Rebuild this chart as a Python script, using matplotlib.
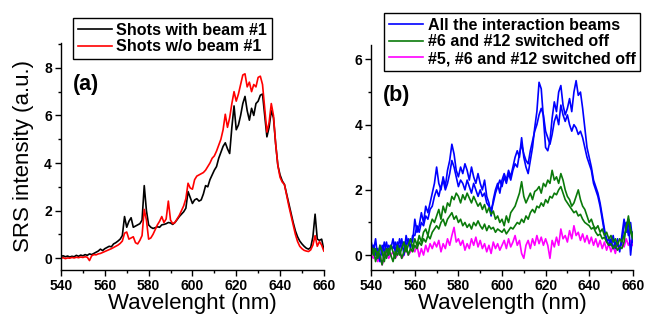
import numpy as np
import matplotlib
matplotlib.use("Agg")
import matplotlib.pyplot as plt
from matplotlib.ticker import MultipleLocator

plt.rcParams['font.family'] = ['Liberation Sans', 'DejaVu Sans']

# wavelength grid (nm), 1 nm steps
wl = np.arange(540, 661)

# panel (a)
with_beam1 = [
    0.08, 0.10, 0.06, 0.09, 0.05, 0.08, 0.06, 0.12, 0.08, 0.13,
    0.10, 0.15, 0.12, 0.18, 0.15, 0.20, 0.25, 0.30, 0.38, 0.32,
    0.40, 0.45, 0.50, 0.48, 0.60, 0.65, 0.72, 0.80, 0.95, 1.75,
    1.30, 1.55, 1.70, 1.30, 1.35, 1.40, 1.45, 1.60, 3.05, 2.00,
    1.40, 1.30, 1.25, 1.28, 1.32, 1.30, 1.40, 1.42, 1.45, 1.50,
    1.48, 1.42, 1.50, 1.62, 1.75, 1.85, 1.95, 2.10, 2.80, 2.55,
    2.30, 2.45, 2.50, 2.40, 2.45, 2.70, 3.05, 3.00, 3.30, 3.50,
    3.70, 3.85, 4.20, 4.45, 4.70, 4.85, 4.60, 4.40, 5.50, 6.40,
    5.40, 5.60, 6.00, 6.50, 6.80, 6.20, 5.80, 6.30, 6.00, 6.50,
    6.60, 6.85, 6.90, 6.00, 5.10, 5.50, 6.20, 5.90, 4.80, 3.90,
    3.50, 3.25, 3.10, 2.70, 2.30, 1.90, 1.50, 1.15, 0.90, 0.72,
    0.60, 0.50, 0.42, 0.38, 0.45, 0.90, 1.85, 0.80, 0.75, 0.80,
    0.35]
without_beam1 = [
    0.00, 0.02, -0.02, 0.01, 0.00, 0.03, 0.01, 0.04, 0.02, 0.05,
    0.03, 0.06, 0.04, -0.10, 0.10, 0.15, 0.14, 0.18, 0.20, 0.24,
    0.28, 0.32, 0.36, 0.40, 0.45, 0.50, 0.55, 0.62, 0.72, 1.05,
    1.10, 0.80, 0.85, 0.90, 0.65, 0.60, 0.75, 0.95, 2.05, 1.60,
    0.80, 0.85, 1.00, 1.20, 1.40, 1.55, 1.75, 1.50, 1.65, 2.40,
    1.60, 1.45, 1.50, 1.65, 1.80, 2.00, 2.20, 2.50, 3.15, 2.95,
    2.90, 3.30, 3.45, 3.50, 3.55, 3.60, 3.70, 3.85, 4.00, 4.20,
    4.30, 4.50, 4.75, 5.00, 5.40, 6.05, 5.50, 5.90, 6.50, 7.00,
    6.60, 6.90, 7.30, 7.70, 7.75, 7.20, 7.40, 7.00, 7.30, 7.20,
    7.60, 7.65, 7.30, 6.30, 5.30, 5.70, 6.50, 6.00, 4.80, 3.90,
    3.40, 3.20, 3.10, 2.65, 2.20, 1.80, 1.40, 1.00, 0.70, 0.50,
    0.40, 0.33, 0.30, 0.28, 0.35, 0.55, 0.95, 0.50, 0.70, 0.55,
    0.30]

# panel (b): two shots for blue and green, one for magenta
all_beams_1 = [
    0.4, 0.1, 0.5, -0.1, 0.3, 0.0, 0.4, 0.1, 0.3, 0.2,
    0.5, 0.1, 0.4, 0.2, 0.5, 0.0, 0.6, 0.3, 0.5, 0.4,
    1.1, 0.7, 0.9, 1.3, 1.0, 1.5, 1.3, 1.6, 1.9, 2.2,
    2.7, 2.2, 2.0, 2.4, 2.1, 2.6, 2.9, 3.4, 3.1, 2.6,
    2.4, 2.7, 2.5, 2.8, 2.6, 2.3, 2.7, 2.4, 2.2, 2.5,
    2.2, 2.0, 2.3, 1.8, 1.6, 1.2, 1.7, 2.0, 2.2, 1.9,
    2.3, 2.5, 2.3, 2.6, 2.4, 2.7, 3.0, 3.2, 3.0, 3.6,
    3.0, 2.7, 2.5, 2.9, 3.3, 3.9, 4.4, 5.3, 5.1, 4.2,
    3.3, 3.2, 3.5, 4.2, 4.7, 4.4, 5.0, 5.2, 4.6, 4.3,
    4.5, 4.8, 4.4, 5.0, 5.35, 4.9, 5.0, 4.5, 3.9, 3.3,
    3.0, 2.7, 2.3, 2.1, 1.9, 1.6, 1.2, 0.8, 0.4, 0.5,
    0.3, 0.6, 0.2, 0.5, 0.1, 0.6, 1.1, 0.7, 1.1, 0.0, 0.7]
all_beams_2 = [
    0.1, 0.3, 0.0, 0.2, -0.2, 0.3, 0.1, 0.4, 0.0, 0.3,
    0.2, 0.4, 0.1, 0.5, 0.2, 0.4, 0.3, 0.5, 0.2, 0.6,
    0.6, 0.9, 0.7, 1.0, 0.9, 1.2, 1.1, 1.4, 1.5, 1.8,
    2.0, 1.8, 2.1, 2.3, 2.0, 2.2, 2.5, 2.9, 2.7, 2.4,
    2.1, 2.3, 2.2, 2.0, 2.3, 2.1, 1.9, 2.2, 2.0, 1.8,
    2.0, 1.8, 1.9, 1.6, 1.5, 1.4, 1.6, 1.9, 2.1, 2.3,
    2.1, 2.4, 2.2, 2.5, 2.3, 2.6, 2.8, 2.7, 3.1, 3.4,
    3.1, 2.9, 2.8, 3.2, 3.5, 3.8, 4.0, 4.3, 4.5, 4.3,
    3.8, 3.6, 3.4, 3.7, 4.1, 4.3, 4.0, 4.6, 4.3, 4.1,
    4.3, 4.0, 3.8, 4.0, 3.9, 3.7, 3.8, 3.6, 3.3, 3.0,
    2.8, 2.6, 2.2, 2.0, 1.8, 1.5, 1.1, 0.7, 0.5, 0.3,
    0.5, 0.2, 0.4, 0.3, 0.2, 0.4, 0.9, 1.0, 0.6, 1.0, 0.4]
off_6_12_1 = [
    0.3, 0.0, 0.2, -0.1, 0.3, 0.1, -0.2, 0.2, 0.0, 0.3,
    0.1, -0.1, 0.3, 0.0, 0.2, 0.4, 0.1, 0.3, 0.5, 0.2,
    0.5, 0.3, 0.6, 0.4, 0.7, 0.8, 0.6, 0.9, 1.1, 1.0,
    1.2, 1.4, 1.1, 1.5, 1.3, 1.6, 1.5, 1.8, 1.7, 1.9,
    1.8, 1.6, 1.85, 1.7, 1.9, 1.75, 1.6, 1.8, 1.65, 1.5,
    1.6, 1.4, 1.55, 1.3, 1.45, 1.25, 1.35, 1.1, 1.2, 1.0,
    1.1, 0.9, 1.2, 1.0, 1.3, 1.4, 1.5, 1.7, 1.9, 2.25,
    1.8, 1.6, 1.75, 1.9, 1.7, 1.95, 2.0, 2.1, 1.9, 2.2,
    2.1, 2.3, 2.2, 2.6, 2.3, 2.4, 2.2, 2.5, 2.3, 2.0,
    1.8, 1.7, 1.5, 1.6, 1.8, 2.0, 1.7, 1.5, 1.4, 1.2,
    1.0, 1.1, 0.9, 0.8, 0.9, 0.7, 0.8, 0.6, 0.7, 0.5,
    0.6, 0.4, 0.5, 0.3, 0.5, 0.4, 0.6, 0.8, 1.2, 0.7, 0.5]
off_6_12_2 = [
    0.0, 0.2, -0.2, 0.1, 0.0, -0.3, 0.1, -0.1, 0.2, 0.0,
    -0.2, 0.1, 0.0, 0.2, -0.1, 0.1, 0.3, 0.0, 0.2, 0.1,
    0.3, 0.2, 0.4, 0.3, 0.5, 0.4, 0.6, 0.5, 0.7, 0.8,
    0.9, 0.8, 1.0, 1.1, 0.9, 1.1, 1.2, 1.3, 1.1, 1.2,
    1.0, 1.1, 0.9, 1.0, 0.85, 0.95, 0.8, 1.0, 0.9, 1.05,
    0.9, 0.8, 0.95, 0.75, 0.9, 0.8, 0.85, 0.7, 0.8, 0.75,
    0.7, 0.8, 0.65, 0.75, 0.85, 0.8, 0.9, 1.0, 0.95, 1.1,
    1.0, 1.2, 1.1, 1.3, 1.4, 1.3, 1.5, 1.45, 1.6, 1.5,
    1.7, 1.6, 1.8, 1.75, 1.9, 1.85, 2.0, 2.1, 1.9, 1.7,
    1.6, 1.5, 1.4, 1.3, 1.35, 1.2, 1.25, 1.1, 1.0, 0.95,
    0.9, 0.8, 0.85, 0.7, 0.6, 0.65, 0.5, 0.55, 0.4, 0.3,
    0.35, 0.2, 0.3, 0.15, 0.25, 0.2, 0.4, 0.9, 1.1, 0.8, 0.6]
off_5_6_12 = [
    0.0, -0.1, 0.1, -0.2, 0.0, -0.3, -0.1, 0.1, -0.1, 0.0,
    0.1, -0.1, 0.0, 0.1, -0.1, 0.0, 0.2, 0.0, 0.1, 0.2,
    0.1, 0.3, -0.05, 0.2, 0.0, 0.3, 0.1, 0.35, 0.2, 0.4,
    0.25, 0.45, 0.1, 0.35, 0.2, 0.5, 0.3, 0.6, 0.85, 0.4,
    0.5, 0.3, 0.45, 0.15, 0.35, 0.2, 0.5, 0.3, 0.55, 0.25,
    0.45, 0.2, 0.35, 0.1, 0.3, 0.05, 0.4, 0.2, 0.35, 0.15,
    0.3, 0.45, 0.2, 0.5, 0.25, 0.4, 0.6, 0.3, 0.45, 0.05,
    -0.1, 0.3, 0.45, 0.2, 0.5, 0.3, 0.6, 0.35, 0.55, 0.3,
    0.5, 0.3, -0.1, 0.45, 0.25, 0.55, 0.3, 0.8, 0.5, 0.6,
    0.4, 0.75, 0.5, 0.9, 0.6, 0.7, 0.45, 0.65, 0.4, 0.6,
    0.35, 0.55, 0.3, 0.5, 0.25, 0.45, 0.2, 0.4, 0.15, 0.35,
    0.1, 0.3, 0.05, 0.35, 0.2, 0.4, 0.25, 0.5, 0.3, 0.45, 0.3]

GREEN = '#0a7a0a'


def style_axes(ax, ymajor):
    for s in ('top', 'right'):
        ax.spines[s].set_visible(False)
    for s in ('left', 'bottom'):
        ax.spines[s].set_linewidth(1.0)
    ax.xaxis.set_major_locator(MultipleLocator(20))
    ax.xaxis.set_minor_locator(MultipleLocator(10))
    ax.yaxis.set_major_locator(MultipleLocator(ymajor))
    ax.yaxis.set_minor_locator(MultipleLocator(ymajor / 2))
    ax.tick_params(which='major', direction='out', length=4, width=1.0,
                   pad=2.5, labelsize=10)
    ax.tick_params(which='minor', direction='out', length=2.5, width=1.0)
    for lab in ax.get_xticklabels() + ax.get_yticklabels():
        lab.set_fontweight('bold')
    ax.set_xlim(540, 660)


def add_legend(handles, labels, x, y):
    leg = fig.legend(handles, labels, loc='upper left',
                     bbox_to_anchor=(x / 649, 1 - y / 320),
                     prop={'weight': 'bold', 'size': 11.6}, frameon=True,
                     fancybox=False, edgecolor='black', framealpha=1,
                     handlelength=2.1, handletextpad=0.3, labelspacing=0.1,
                     borderpad=0.3, borderaxespad=0)
    leg.get_frame().set_linewidth(1.0)
    return leg


fig = plt.figure(figsize=(6.49, 3.2), dpi=100)
ax1 = fig.add_axes([0.094, 0.156, 0.405, 0.71])
ax2 = fig.add_axes([0.572, 0.156, 0.403, 0.703])

# (a)
l1, = ax1.plot(wl, with_beam1, color='black', lw=1.2)
l2, = ax1.plot(wl, without_beam1, color='#ff0000', lw=1.2)
ax1.set_ylim(-0.5, 9.05)
style_axes(ax1, 2)
ax1.set_xlabel('Wavelenght (nm)', fontsize=16)
ax1.set_ylabel('SRS intensity (a.u.)', fontsize=16)
ax1.xaxis.set_label_coords(0.5, -0.1)
ax1.yaxis.set_label_coords(-0.103, 0.5)
ax1.text(0.046, 0.815, '(a)', transform=ax1.transAxes, fontsize=15.5,
         fontweight='bold', ha='left', va='center')
add_legend([l1, l2], ['Shots with beam #1', 'Shots w/o beam #1'], 73, 18)

# (b)
m1, = ax2.plot(wl, off_5_6_12, color='#ff00ff', lw=1.2)
b1, = ax2.plot(wl, all_beams_1, color='#0000ff', lw=1.2)
ax2.plot(wl, all_beams_2, color='#0000ff', lw=1.2)
g1, = ax2.plot(wl, off_6_12_1, color=GREEN, lw=1.2)
ax2.plot(wl, off_6_12_2, color=GREEN, lw=1.2)
ax2.set_ylim(-0.46, 6.44)
style_axes(ax2, 2)
ax2.set_xlabel('Wavelength (nm)', fontsize=16)
ax2.xaxis.set_label_coords(0.5, -0.1)
ax2.text(0.046, 0.778, '(b)', transform=ax2.transAxes, fontsize=15.5,
         fontweight='bold', ha='left', va='center')
add_legend([b1, g1, m1], ['All the interaction beams',
                          '#6 and #12 switched off',
                          '#5, #6 and #12 switched off'], 384, 13)

fig.savefig('out.png', dpi=100)
